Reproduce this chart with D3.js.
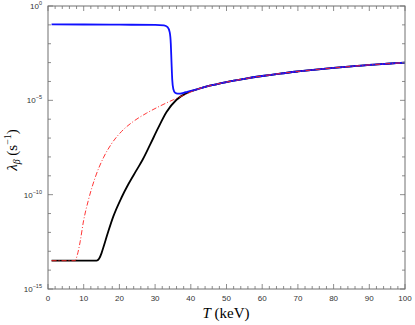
<!DOCTYPE html>
<html><head><meta charset="utf-8">
<script src="https://cdn.jsdelivr.net/npm/d3@7"></script>
<style>body{margin:0;background:#fff}</style>
</head><body><svg id="c" width="415" height="325"></svg>
<script>
// Data: temperature T (keV) and log10 of lambda_beta (s^-1)
const blueT   = [1,10,20,30,32.5,33.5,34.1,34.4,34.6,34.8,35.1,35.6,36.3,37,38,39,40,42,45,50,55,60,65,70,75,80,85,90,95,100];
const blueLog = [-0.97,-0.98,-0.99,-1.0,-1.03,-1.12,-1.4,-2.0,-3.0,-3.9,-4.4,-4.6,-4.64,-4.64,-4.6,-4.55,-4.5,-4.4,-4.24,-4.03,-3.86,-3.71,-3.58,-3.47,-3.37,-3.28,-3.2,-3.12,-3.06,-3.0];
const redT    = [1,7.6,8.2,9,9.9,11.3,13.2,15.5,17.8,20.6,23.9,27.6,31.4,35.1,37.9,40,42,45,50,55,60,65,70,75,80,85,90,95,100];
const redLog  = [-13.5,-13.5,-13.2,-12.5,-11.45,-10.3,-9.1,-8.05,-7.3,-6.65,-6.12,-5.68,-5.3,-4.97,-4.74,-4.56,-4.4,-4.24,-4.03,-3.86,-3.71,-3.58,-3.47,-3.37,-3.28,-3.2,-3.12,-3.06,-3.0];
const blackT  = [1,13.6,14.3,15,15.5,16.9,18.3,20.6,22.5,24.8,26.5,28.6,30.9,33.2,36,38.8,40,42,45,50,55,60,65,70,75,80,85,90,95,100];
const blackLog= [-13.5,-13.5,-13.4,-13.1,-12.8,-11.94,-11.15,-10.15,-9.45,-8.7,-8.15,-7.35,-6.45,-5.62,-4.97,-4.62,-4.52,-4.4,-4.24,-4.03,-3.86,-3.71,-3.58,-3.47,-3.37,-3.28,-3.2,-3.12,-3.06,-3.0];
const xTickLabels = [0,10,20,30,40,50,60,70,80,90,100];
const yTickExps = [0,-5,-10,-15];

const svg = d3.select("#c");
const L = 48, R = 405, T0 = 6, B = 289;
const x = d3.scaleLinear().domain([0,100]).range([L,R]);
const y = d3.scaleLog().domain([1e-15,1]).range([B,T0]);
const frame = "#707070";

function series(ts, ls){ return ts.map((t,i)=>[t, Math.pow(10, ls[i])]); }
const line = d3.line().x(d=>x(d[0])).y(d=>y(d[1])).curve(d3.curveMonotoneX);

const g = svg.append("g");
g.append("path").attr("d", line(series(blackT,blackLog))).attr("fill","none").attr("stroke","#000").attr("stroke-width",1.8);
g.append("path").attr("d", line(series(blueT,blueLog))).attr("fill","none").attr("stroke","#1010ff").attr("stroke-width",1.8);
g.append("path").attr("d", line(series(redT,redLog))).attr("fill","none").attr("stroke","#ff2020").attr("stroke-width",0.9).attr("stroke-dasharray","5,2,1,2");

// frame
svg.append("rect").attr("x",L).attr("y",T0).attr("width",R-L).attr("height",B-T0).attr("fill","none").attr("stroke",frame).attr("stroke-width",1);

// x ticks (inward, bottom and top)
const xt = d3.range(0,101,2);
xt.forEach(v=>{
  const len = v%10===0 ? 5 : 3;
  svg.append("line").attr("x1",x(v)).attr("x2",x(v)).attr("y1",B).attr("y2",B-len).attr("stroke",frame).attr("stroke-width",0.8);
  svg.append("line").attr("x1",x(v)).attr("x2",x(v)).attr("y1",T0).attr("y2",T0+len).attr("stroke",frame).attr("stroke-width",0.8);
});
xTickLabels.forEach(v=>{
  svg.append("text").attr("x",x(v)).attr("y",301).attr("text-anchor","middle")
    .attr("font-family","Liberation Sans, Arial, sans-serif").attr("font-size",8).attr("fill","#333").text(v);
});
// y ticks
d3.range(-15,1,1).forEach(e=>{
  const len = e%5===0 ? 5 : 3;
  const yy = y(Math.pow(10,e));
  svg.append("line").attr("x1",L).attr("x2",L+len).attr("y1",yy).attr("y2",yy).attr("stroke",frame).attr("stroke-width",0.8);
  svg.append("line").attr("x1",R).attr("x2",R-len).attr("y1",yy).attr("y2",yy).attr("stroke",frame).attr("stroke-width",0.8);
});
yTickExps.forEach(e=>{
  const t = svg.append("text").attr("x",42).attr("y",y(Math.pow(10,e))+3).attr("text-anchor","end")
    .attr("font-family","Liberation Sans, Arial, sans-serif").attr("font-size",8).attr("fill","#333");
  t.append("tspan").text("10");
  t.append("tspan").attr("dy",-4).attr("font-size",5.5).text(e===0?"0":"\u2212"+(-e));
});

// axis labels
const xl = svg.append("text").attr("x",226).attr("y",318).attr("text-anchor","middle")
  .attr("font-family","Liberation Serif, DejaVu Serif, serif").attr("font-size",15).attr("fill","#000");
xl.append("tspan").attr("font-style","italic").text("T");
xl.append("tspan").text(" (keV)");

const yl = svg.append("text").attr("transform","translate(17,150) rotate(-90)").attr("text-anchor","middle")
  .attr("font-family","Liberation Serif, DejaVu Serif, serif").attr("font-size",15).attr("fill","#000");
yl.append("tspan").attr("font-style","italic").text("\u03bb");
yl.append("tspan").attr("font-style","italic").attr("font-size",10).attr("dy",3).text("\u03b2");
yl.append("tspan").attr("dy",-3).text(" (s");
yl.append("tspan").attr("font-size",10).attr("dy",-6).text("\u22121");
yl.append("tspan").attr("dy",6).text(")");
</script></body></html>
